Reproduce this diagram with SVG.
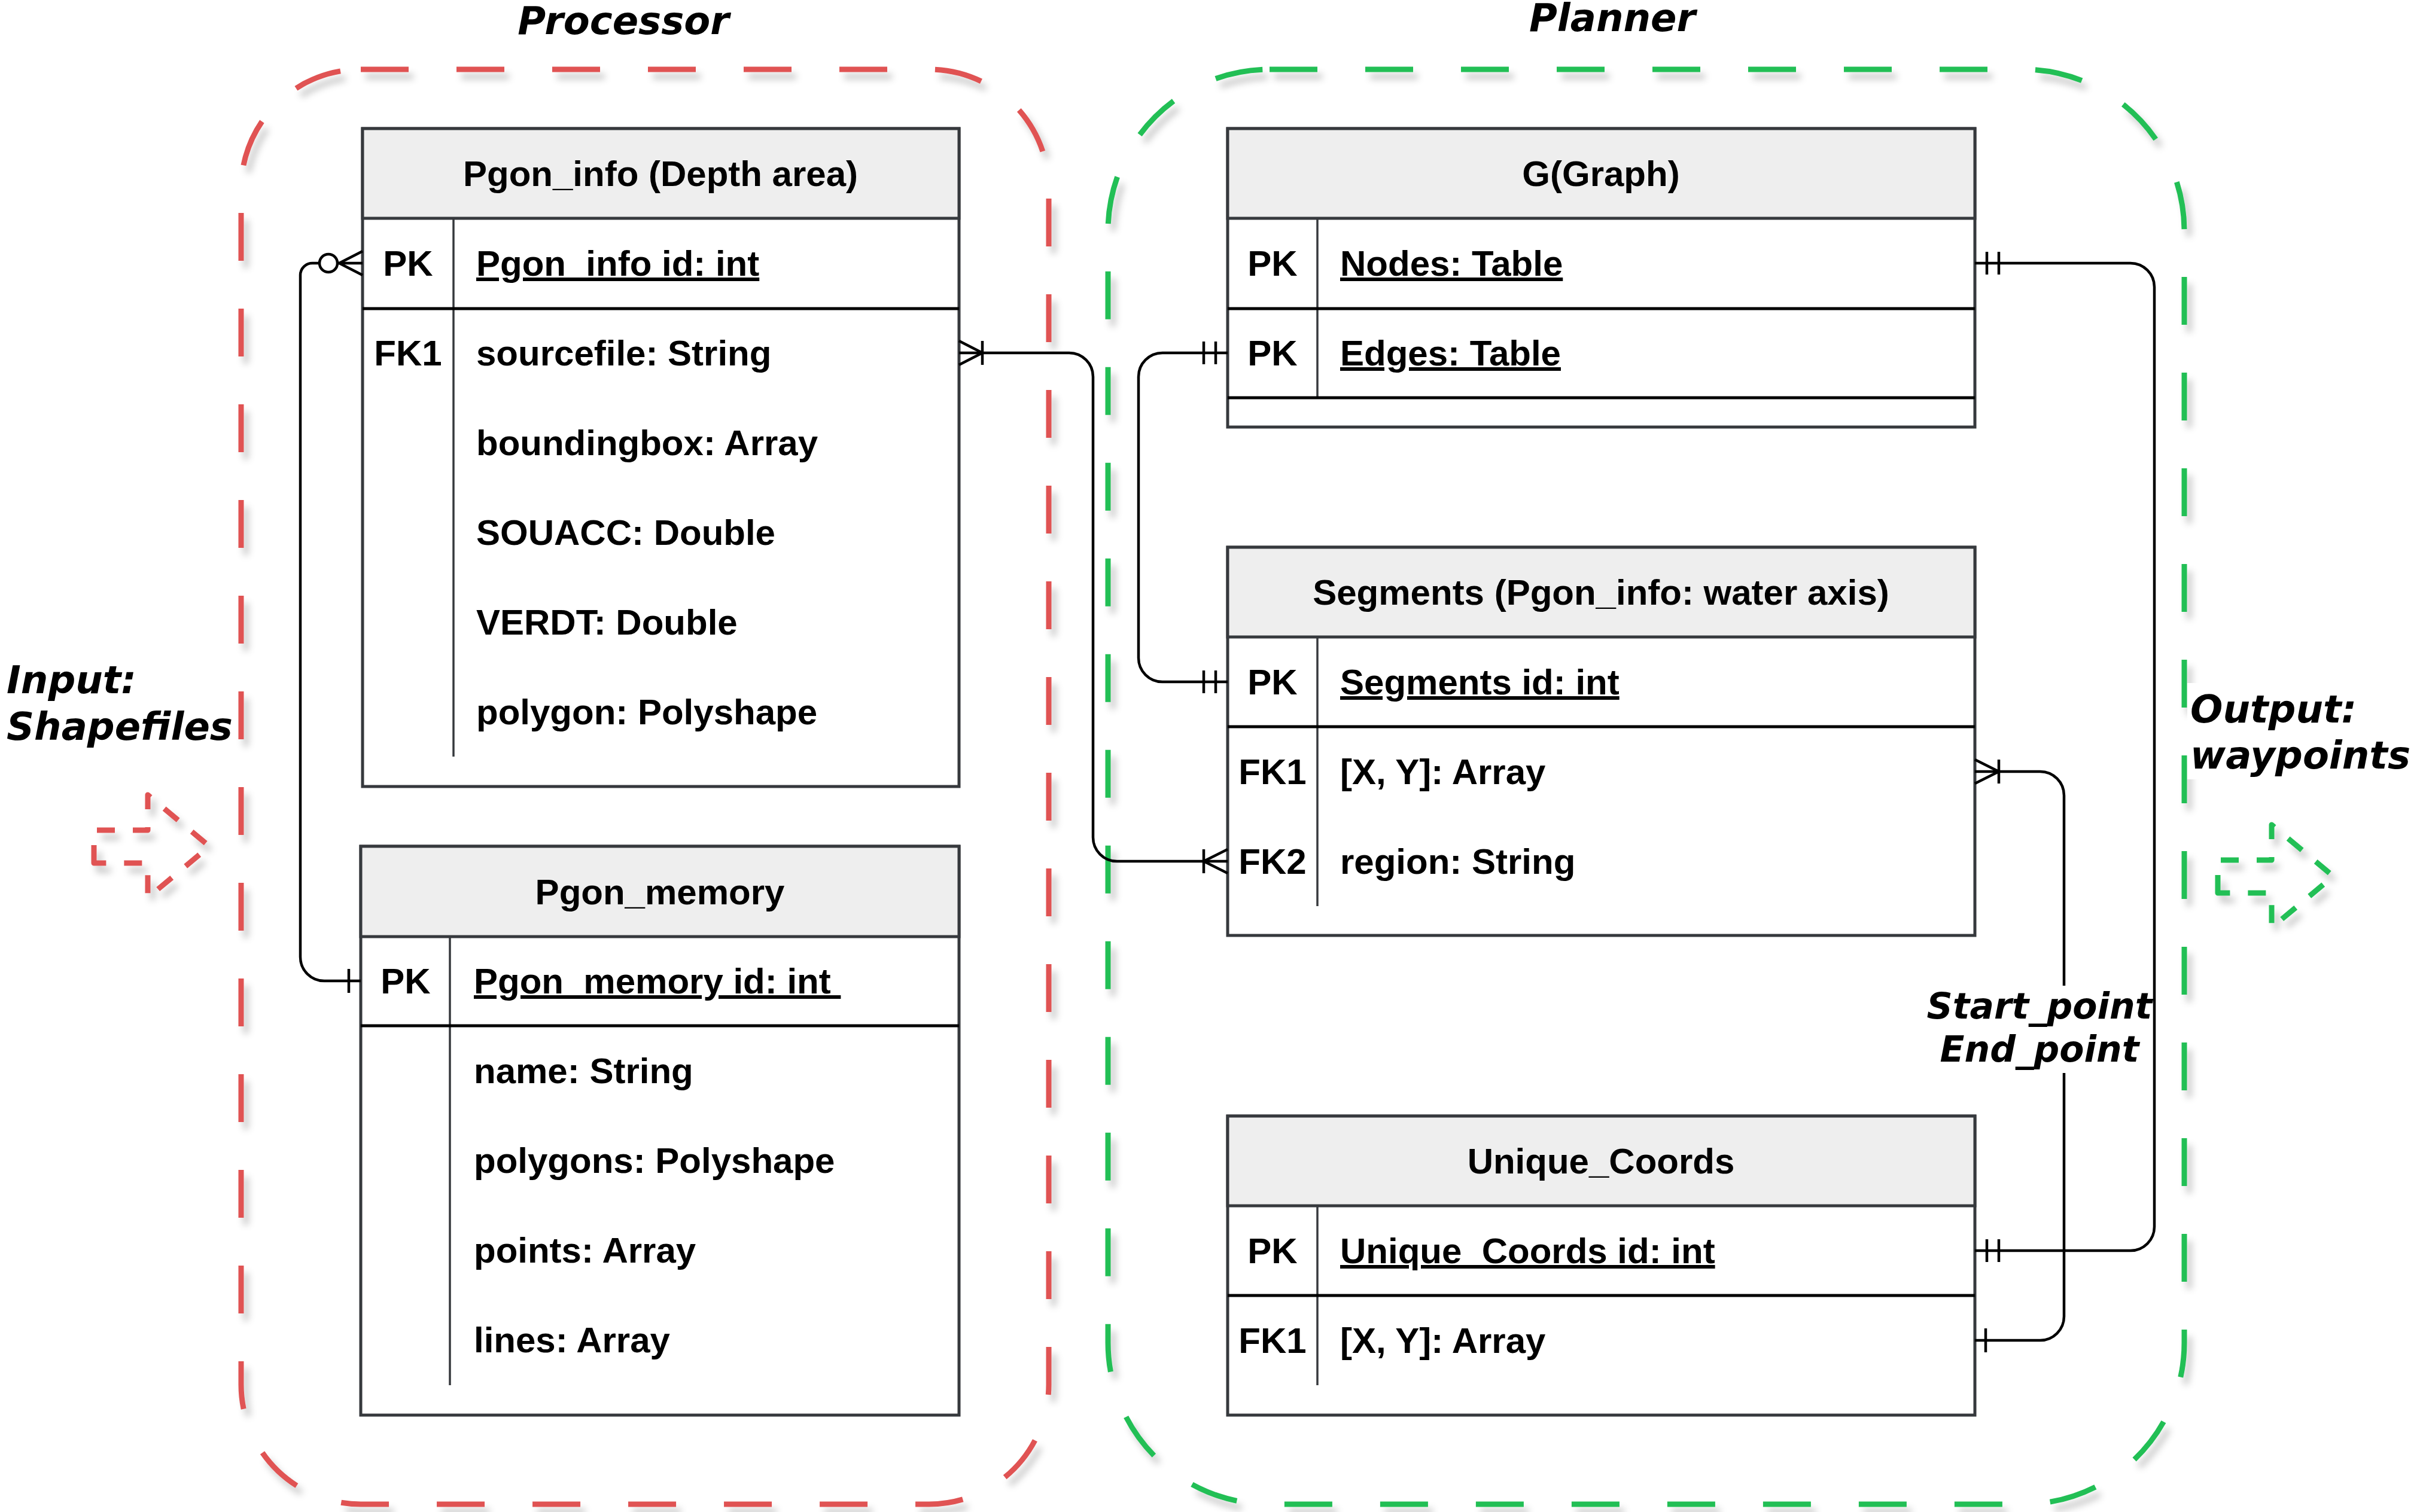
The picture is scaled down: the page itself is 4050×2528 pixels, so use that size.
<svg xmlns="http://www.w3.org/2000/svg" width="4050" height="2528" viewBox="0 0 4050 2528">
<defs>
<style>
.t{font-family:"Liberation Sans",Arial,sans-serif;font-size:60px;font-weight:bold;fill:#000}
.c{text-anchor:middle}
.u{text-decoration:underline}
.lbl{font-family:"DejaVu Sans",Verdana,sans-serif;font-weight:bold;font-style:italic;font-size:64px;fill:#000}
.box{fill:#fff;stroke:#36393D;stroke-width:5}
.hdr{fill:#EEEEEE;stroke:#36393D;stroke-width:5}
.sep{stroke:#000;stroke-width:5}
.div{stroke:#36393D;stroke-width:3.5}
.red{fill:none;stroke:#E05252;stroke-width:9;stroke-dasharray:80 80}
.grn{fill:none;stroke:#20BF55;stroke-width:9;stroke-dasharray:80 80}
.arr{fill:none;stroke-width:9;stroke-dasharray:30 30;stroke-linejoin:round}
.ln{fill:none;stroke:#000;stroke-width:4.5}
</style>
<filter id="sh" x="-10%" y="-10%" width="130%" height="130%">
<feDropShadow dx="8" dy="12" stdDeviation="6" flood-color="#000" flood-opacity="0.22"/>
</filter>
</defs>
<rect width="4050" height="2528" fill="#fff"/>

<g id="processor-group">
<rect class="red" x="403" y="116" width="1350" height="2399" rx="200" ry="200" filter="url(#sh)"/>
<text class="lbl c" x="1042" y="57">Processor</text>
</g>
<g id="planner-group">
<rect class="grn" x="1852" y="116" width="1799" height="2399" rx="270" ry="270" filter="url(#sh)"/>
<text class="lbl c" x="2695" y="52">Planner</text>
</g>

<g id="input">
<path class="arr" stroke="#E05252" filter="url(#sh)" d="M157,1443 L157,1388 L247,1388 L247,1329 L350,1415 L247,1501 L247,1443 Z"/>
<text class="lbl" x="11" y="1159">Input:</text>
<text class="lbl" x="11" y="1237">Shapefiles</text>
</g>

<g id="output">
<path class="arr" stroke="#20BF55" filter="url(#sh)" d="M3707,1493 L3707,1438 L3797,1438 L3797,1379 L3900,1465 L3797,1551 L3797,1493 Z"/>
<rect x="3656" y="1142" width="390" height="161" fill="#fff"/>
<text class="lbl" x="3661" y="1208">Output:</text>
<text class="lbl" x="3661" y="1285">waypoints</text>
</g>

<g id="pgon-info">
<rect class="box" x="606" y="215" width="997" height="1100"/>
<rect class="hdr" x="606" y="215" width="997" height="150"/>
<text class="t c" x="1104" y="311">Pgon_info (Depth area)</text>
<line class="div" x1="758" y1="365" x2="758" y2="1265"/>
<line class="sep" x1="606" y1="516" x2="1603" y2="516"/>
<text class="t c" x="682" y="461">PK</text>
<text class="t u" x="796" y="461">Pgon_info id: int</text>
<text class="t c" x="682" y="611">FK1</text>
<text class="t" x="796" y="611">sourcefile: String</text>
<text class="t" x="796" y="761">boundingbox: Array</text>
<text class="t" x="796" y="911">SOUACC: Double</text>
<text class="t" x="796" y="1061">VERDT: Double</text>
<text class="t" x="796" y="1211">polygon: Polyshape</text>
</g>

<g id="pgon-memory">
<rect class="box" x="603" y="1415" width="1000" height="951"/>
<rect class="hdr" x="603" y="1415" width="1000" height="151"/>
<text class="t c" x="1103" y="1512">Pgon_memory</text>
<line class="div" x1="752" y1="1566" x2="752" y2="2316"/>
<line class="sep" x1="603" y1="1715" x2="1603" y2="1715"/>
<text class="t c" x="678" y="1661">PK</text>
<text class="t u" x="792" y="1661">Pgon_memory id: int&#160;</text>
<text class="t" x="792" y="1811">name: String</text>
<text class="t" x="792" y="1961">polygons: Polyshape</text>
<text class="t" x="792" y="2111">points: Array</text>
<text class="t" x="792" y="2261">lines: Array</text>
</g>

<g id="graph">
<rect class="box" x="2052" y="215" width="1249" height="499"/>
<rect class="hdr" x="2052" y="215" width="1249" height="150"/>
<text class="t c" x="2676" y="311">G(Graph)</text>
<line class="div" x1="2202" y1="365" x2="2202" y2="665"/>
<line class="sep" x1="2052" y1="516" x2="3301" y2="516"/>
<line class="sep" x1="2052" y1="665" x2="3301" y2="665"/>
<text class="t c" x="2127" y="461">PK</text>
<text class="t u" x="2240" y="461">Nodes: Table</text>
<text class="t c" x="2127" y="611">PK</text>
<text class="t u" x="2240" y="611">Edges: Table</text>
</g>

<g id="segments">
<rect class="box" x="2052" y="915" width="1249" height="649"/>
<rect class="hdr" x="2052" y="915" width="1249" height="150"/>
<text class="t c" x="2676" y="1011">Segments (Pgon_info: water axis)</text>
<line class="div" x1="2202" y1="1065" x2="2202" y2="1515"/>
<line class="sep" x1="2052" y1="1215" x2="3301" y2="1215"/>
<text class="t c" x="2127" y="1161">PK</text>
<text class="t u" x="2240" y="1161">Segments id: int</text>
<text class="t c" x="2127" y="1311">FK1</text>
<text class="t" x="2240" y="1311">[X, Y]: Array</text>
<text class="t c" x="2127" y="1461">FK2</text>
<text class="t" x="2240" y="1461">region: String</text>
</g>

<g id="unique-coords">
<rect class="box" x="2052" y="1866" width="1249" height="500"/>
<rect class="hdr" x="2052" y="1866" width="1249" height="150"/>
<text class="t c" x="2676" y="1962">Unique_Coords</text>
<line class="div" x1="2202" y1="2016" x2="2202" y2="2316"/>
<line class="sep" x1="2052" y1="2166" x2="3301" y2="2166"/>
<text class="t c" x="2127" y="2112">PK</text>
<text class="t u" x="2240" y="2112">Unique_Coords id: int</text>
<text class="t c" x="2127" y="2262">FK1</text>
<text class="t" x="2240" y="2262">[X, Y]: Array</text>
</g>

<g id="connectors">
<!-- Pgon_info PK -> Pgon_memory PK -->
<path class="ln" d="M606,440 H522 A20,20 0 0 0 502,460 V1600 A40,40 0 0 0 542,1640 H603"/>
<path class="ln" d="M606,420 L567,440 L606,460"/>
<circle cx="549" cy="440" r="15" fill="#fff" stroke="#000" stroke-width="4.5"/>
<line class="ln" x1="583" y1="1620" x2="583" y2="1660"/>
<!-- Pgon_info sourcefile -> Segments FK2 -->
<path class="ln" d="M1603,590 H1787 A40,40 0 0 1 1827,630 V1400 A40,40 0 0 0 1867,1440 H2052"/>
<path class="ln" d="M1603,570 L1642,590 L1603,610 M1642,570 V610"/>
<path class="ln" d="M2052,1420 L2012,1440 L2052,1460 M2012,1420 V1460"/>
<!-- G Edges -> Segments PK -->
<path class="ln" d="M2052,590 H1943 A40,40 0 0 0 1903,630 V1100 A40,40 0 0 0 1943,1140 H2052"/>
<path class="ln" d="M2012,571 V609 M2032,571 V609 M2012,1121 V1159 M2032,1121 V1159"/>
<!-- G Nodes -> Unique_Coords PK -->
<path class="ln" d="M3301,440 H3561 A40,40 0 0 1 3601,480 V2051 A40,40 0 0 1 3561,2091 H3301"/>
<path class="ln" d="M3321,421 V459 M3341,421 V459 M3321,2072 V2110 M3341,2072 V2110"/>
<!-- Segments FK1 -> Unique_Coords FK1 -->
<path class="ln" d="M3301,1290 H3410 A40,40 0 0 1 3450,1330 V2201 A40,40 0 0 1 3410,2241 H3301"/>
<path class="ln" d="M3301,1270 L3341,1290 L3301,1310 M3341,1270 V1310"/>
<line class="ln" x1="3319" y1="2221" x2="3319" y2="2261"/>
<rect x="3240" y="1648" width="350" height="146" fill="#fff"/>
<text class="lbl c" style="font-size:60px" x="3409" y="1703">Start_point</text>
<text class="lbl c" style="font-size:60px" x="3409" y="1775">End_point</text>
</g>
</svg>
